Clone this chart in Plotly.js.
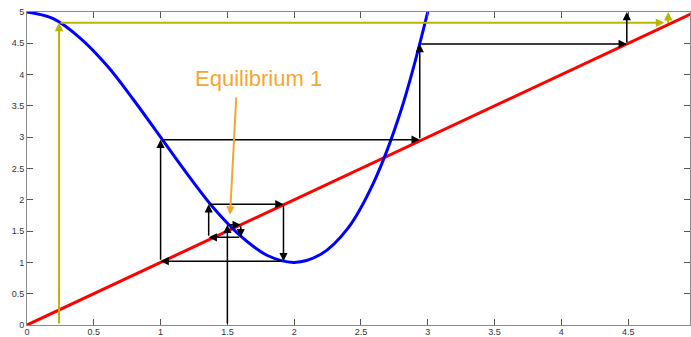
<!DOCTYPE html>
<html>
<head>
<meta charset="utf-8">
<script src="https://cdn.plot.ly/plotly-3.0.1.min.js"></script>
<style>
  html, body { margin: 0; padding: 0; background: #ffffff; }
  #chart { width: 691px; height: 337px; }
</style>
</head>
<body>
<div id="chart"></div>
<script>
// Map curve samples (smoothed with a spline when drawn)
const curveX = [0, 0.2, 0.4, 0.6, 0.8, 1.0, 1.2, 1.4, 1.6, 1.8, 2.0, 2.2, 2.4, 2.6, 2.8, 3.0, 3.1];
const curveY = [5.0, 4.89, 4.58, 4.14, 3.59, 3.0, 2.41, 1.86, 1.42, 1.11, 1.0, 1.13, 1.54, 2.3, 3.43, 5.0, 5.96];

// Identity line y = x
const diagX = [0, 5];
const diagY = [0, 5];

// Cobweb iteration starting at x = 1.5 (black)
const webX = [1.5, 1.5, 1.6, 1.6, 1.36, 1.36, 1.92, 1.92, 1.0, 1.0, 2.94, 2.94, 4.49, 4.49];
const webY = [0, 1.6, 1.6, 1.4, 1.4, 1.93, 1.93, 1.02, 1.02, 2.96, 2.96, 4.49, 4.49, 5.0];

// Iteration starting at x = 0.24 (olive)
const startX = [0.24, 0.24, 4.77];
const startY = [0, 4.83, 4.83];
const exitX = [4.8, 4.8];
const exitY = [4.8, 5.0];

// Callout
const labelText = 'Equilibrium 1';
const labelAt = [1.73, 3.93];
const pointerFrom = [1.567, 3.66];
const pointerTo = [1.52, 1.76];

const xTicks = [0, 0.5, 1, 1.5, 2, 2.5, 3, 3.5, 4, 4.5];
const yTicks = [0, 0.5, 1, 1.5, 2, 2.5, 3, 3.5, 4, 4.5, 5];

function segments(xs, ys, color, width, size) {
  const out = [];
  for (let i = 0; i < xs.length - 1; i++) {
    out.push({
      x: xs[i + 1], y: ys[i + 1], ax: xs[i], ay: ys[i],
      xref: 'x', yref: 'y', axref: 'x', ayref: 'y',
      text: '', showarrow: true,
      arrowhead: 2, arrowsize: size, arrowwidth: width,
      arrowcolor: color, standoff: 0
    });
  }
  return out;
}

const traces = [
  {
    x: diagX, y: diagY, type: 'scatter', mode: 'lines',
    line: { color: '#ff0000', width: 3 }, hoverinfo: 'skip'
  },
  {
    x: curveX, y: curveY, type: 'scatter', mode: 'lines',
    line: { color: '#0000ff', width: 3, shape: 'spline', smoothing: 1 }, hoverinfo: 'skip'
  }
];

const annotations = []
  .concat(segments(startX, startY, '#b8b600', 2, 0.85))
  .concat(segments(exitX, exitY, '#b8b600', 2, 0.85))
  .concat(segments(webX, webY, '#000000', 1.5, 1.1));

annotations.push({
  x: pointerTo[0], y: pointerTo[1], ax: pointerFrom[0], ay: pointerFrom[1],
  xref: 'x', yref: 'y', axref: 'x', ayref: 'y',
  text: '', showarrow: true, arrowhead: 2, arrowsize: 0.85, arrowwidth: 2,
  arrowcolor: '#f5a631', standoff: 0
});
annotations.push({
  x: labelAt[0], y: labelAt[1], xref: 'x', yref: 'y',
  text: labelText, showarrow: false,
  font: { family: 'Liberation Sans, Arial, sans-serif', size: 22, color: '#f5a631' }
});

const axisCommon = {
  showgrid: false, zeroline: false,
  showline: true, linecolor: '#8a8a8a', linewidth: 1, mirror: 'ticks',
  ticks: 'inside', ticklen: 6, tickwidth: 1, tickcolor: '#555555',
  tickfont: { family: 'Liberation Sans, Arial, sans-serif', size: 9, color: '#333333' },
  fixedrange: true
};

const layout = {
  width: 691, height: 337,
  margin: { l: 27, r: 1, t: 12, b: 12, pad: 0 },
  paper_bgcolor: '#ffffff', plot_bgcolor: '#ffffff',
  showlegend: false,
  xaxis: Object.assign({}, axisCommon, {
    range: [0, 4.963], tickvals: xTicks, ticktext: xTicks.map(String),
    ticklabelstandoff: -2
  }),
  yaxis: Object.assign({}, axisCommon, {
    range: [0, 5], tickvals: yTicks, ticktext: yTicks.map(String)
  }),
  annotations: annotations
};

Plotly.newPlot('chart', traces, layout, { displayModeBar: false, staticPlot: true });
</script>
</body>
</html>
